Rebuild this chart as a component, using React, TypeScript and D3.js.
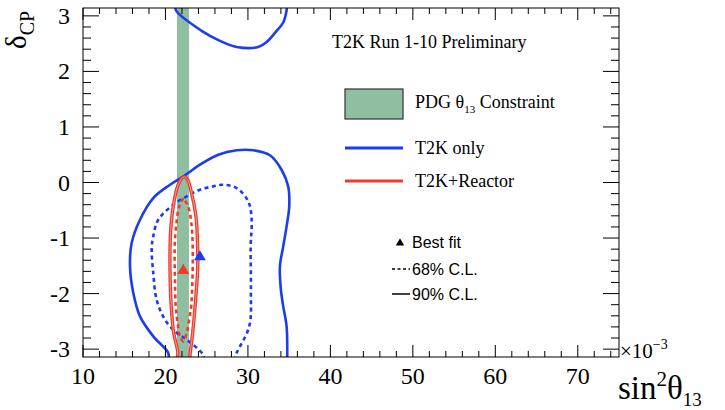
import React from "react";
import * as d3 from "d3";

// sin^2(theta13) in units of 1e-3, deltaCP in radians
const pdgBand = [21.4, 22.85];

const t2kOnly90Main: [number, number][] = [
  [20.34, -3.2], [20.34, -3.07], [18.52, -2.77], [16.91, -2.41], [16.1, -1.99],
  [15.7, -1.51], [15.9, -1.09], [16.91, -0.67], [18.52, -0.28], [20.55, -0.04],
  [22.36, 0.13], [24.18, 0.32], [26.4, 0.5], [28.63, 0.58], [30.64, 0.58],
  [32.67, 0.49], [34.08, 0.23], [34.88, -0.07], [35.01, -0.43], [34.69, -0.79],
  [34.28, -1.15], [33.88, -1.51], [33.98, -1.9], [34.28, -2.23], [34.69, -2.59],
  [34.76, -3.2],
];

const t2kOnly90Top: [number, number][] = [
  [21.27, 3.2], [21.27, 3.1], [24.39, 2.73], [26.61, 2.55], [28.63, 2.44],
  [31.25, 2.44], [32.27, 2.53], [33.48, 2.73], [34.28, 2.88], [34.69, 3.1],
  [34.73, 3.2],
];

const t2kOnly68: [number, number][] = [
  [24.7, -3.2], [24.58, -3.1], [22.57, -2.83], [21.15, -2.68], [19.94, -2.47],
  [18.93, -2.11], [18.52, -1.63], [18.33, -1.18], [18.52, -0.97], [19.13, -0.67],
  [20.95, -0.4], [22.57, -0.25], [24.18, -0.13], [25.79, -0.07], [27.01, -0.04],
  [28.63, -0.1], [30.04, -0.34], [30.45, -0.67], [30.33, -1.15], [30.36, -1.93],
  [30.16, -2.59], [28.63, -3.07], [28.35, -3.2],
];

const reactor90: [number, number][] = [
  [21.35, -3.2], [21.5, -3.07], [21.0, -2.71], [20.7, -2.23], [20.55, -1.57],
  [20.58, -1.03], [20.7, -0.73], [21.08, -0.31], [21.6, -0.02], [22.2, 0.1],
  [22.65, 0.06], [23.1, -0.15], [23.7, -0.61], [23.9, -1.15], [23.9, -1.57],
  [23.75, -1.93], [23.3, -2.71], [23.0, -3.07], [22.92, -3.2],
];

const reactor68: [number, number][] = [
  [22.16, -0.28], [21.67, -0.43], [21.33, -0.73], [21.12, -1.15], [21.15, -1.7],
  [21.25, -2.23], [21.5, -2.56], [21.76, -2.77], [22.16, -2.86], [22.57, -2.71],
  [22.97, -2.38], [23.12, -2.23], [23.3, -1.57], [23.3, -1.15], [23.18, -0.79],
  [22.76, -0.43], [22.16, -0.28],
];

const bestFitT2K: [number, number] = [24.18, -1.34];
const bestFitReactor: [number, number] = [22.16, -1.585];

const xMajor = [10, 20, 30, 40, 50, 60, 70];
const yMajor = [-3, -2, -1, 0, 1, 2, 3];

const BLUE = "#1c3cf0";
const RED = "#ee3a2c";
const GREEN = "#8fbfa0";

export default function App() {
  const width = 725;
  const height = 410;
  const left = 83, right = 619, top = 8, bottom = 357;

  const x = d3.scaleLinear().domain([10, 75]).range([left, right]);
  const y = d3.scaleLinear().domain([-Math.PI, Math.PI]).range([bottom, top]);

  const line = d3.line<[number, number]>()
    .x(d => x(d[0]))
    .y(d => y(d[1]))
    .curve(d3.curveCatmullRom.alpha(0.5));

  const xMinor = d3.range(10, 75, 2);
  const yMinor = d3.range(-3, 3.01, 0.2);

  const tri = d3.symbol().type(d3.symbolTriangle).size(60)();

  const serif = "'Liberation Serif', 'Times New Roman', serif";
  const sans = "'Liberation Sans', Arial, sans-serif";

  return (
    <svg width={width} height={height} style={{ position: "absolute", left: 0, top: 0, background: "#fff" }}>
      <defs>
        <clipPath id="plot">
          <rect x={left} y={top} width={right - left} height={bottom - top} />
        </clipPath>
      </defs>

      <g clipPath="url(#plot)">
        <rect x={x(pdgBand[0])} y={top} width={x(pdgBand[1]) - x(pdgBand[0])} height={bottom - top} fill={GREEN} />
        <path d={line(t2kOnly90Main) || ""} fill="none" stroke={BLUE} strokeWidth={2.6} />
        <path d={line(t2kOnly90Top) || ""} fill="none" stroke={BLUE} strokeWidth={2.6} />
        <path d={line(t2kOnly68) || ""} fill="none" stroke={BLUE} strokeWidth={2.6} strokeDasharray="4 3.5" />
        <path d={line(reactor90) || ""} fill="none" stroke={RED} strokeWidth={3.4} />
        <path d={line(reactor90) || ""} fill="none" stroke="#f6b0a8" strokeWidth={0.8} />
        <path d={line(reactor68) || ""} fill="none" stroke={RED} strokeWidth={2.6} strokeDasharray="4 3.5" />
        <path d={tri || ""} transform={`translate(${x(bestFitT2K[0])},${y(bestFitT2K[1])})`} fill={BLUE} />
        <path d={tri || ""} transform={`translate(${x(bestFitReactor[0])},${y(bestFitReactor[1])})`} fill={RED} />
      </g>

      {/* frame and ticks */}
      <rect x={left} y={top} width={right - left} height={bottom - top} fill="none" stroke="#000" strokeWidth={1} />
      <g stroke="#000" strokeWidth={1}>
        {xMinor.map(v => {
          const len = v % 10 === 0 ? 12 : 6;
          return (
            <g key={"x" + v}>
              <line x1={x(v)} x2={x(v)} y1={bottom} y2={bottom - len} />
              <line x1={x(v)} x2={x(v)} y1={top} y2={top + len} />
            </g>
          );
        })}
        {yMinor.map(v => {
          const major = Math.abs(v - Math.round(v)) < 1e-6;
          const len = major ? 16 : 8;
          return (
            <g key={"y" + v.toFixed(1)}>
              <line x1={left} x2={left + len} y1={y(v)} y2={y(v)} />
              <line x1={right} x2={right - len} y1={y(v)} y2={y(v)} />
            </g>
          );
        })}
      </g>

      <g fontFamily={serif} fontSize={24} fill="#000">
        {xMajor.map(v => (
          <text key={"xl" + v} x={x(v)} y={384} textAnchor="middle">{v}</text>
        ))}
        {yMajor.map(v => (
          <text key={"yl" + v} x={70} y={y(v) + 8} textAnchor="end">{v}</text>
        ))}
      </g>

      {/* x10^-3 */}
      <text x={620} y={358} fontFamily={serif} fontSize={21}>
        ×10<tspan dy={-9} fontSize={14}>−3</tspan>
      </text>

      {/* axis titles */}
      <text x={618} y={399} fontFamily={serif} fontSize={33}>
        sin<tspan dy={-13} fontSize={21}>2</tspan><tspan dy={13}>θ</tspan><tspan dy={7} fontSize={19}>13</tspan>
      </text>
      <text transform="translate(26,49) rotate(-90)" fontFamily={serif} fontSize={29}>
        δ<tspan dy={8} fontSize={20}>CP</tspan>
      </text>

      {/* title */}
      <text x={332} y={48} fontFamily={serif} fontSize={18}>T2K Run 1-10 Preliminary</text>

      {/* main legend */}
      <rect x={345} y={89} width={58} height={30} fill={GREEN} stroke="#333" strokeWidth={1.2} />
      <text x={415} y={108} fontFamily={serif} fontSize={18}>
        PDG θ<tspan dy={5} fontSize={11}>13</tspan><tspan dy={-5}> Constraint</tspan>
      </text>
      <line x1={345} x2={403} y1={148} y2={148} stroke={BLUE} strokeWidth={3} />
      <text x={415} y={154} fontFamily={serif} fontSize={18}>T2K only</text>
      <line x1={345} x2={403} y1={181} y2={181} stroke={RED} strokeWidth={3} />
      <text x={415} y={187} fontFamily={serif} fontSize={18}>T2K+Reactor</text>

      {/* style legend */}
      <path d={d3.symbol().type(d3.symbolTriangle).size(30)() || ""} transform="translate(400,243)" fill="#000" />
      <text x={412} y={248} fontFamily={sans} fontSize={16}>Best fit</text>
      <line x1={392} x2={410} y1={269} y2={269} stroke="#000" strokeWidth={1.5} strokeDasharray="3 2.5" />
      <text x={412} y={275} fontFamily={sans} fontSize={16}>68% C.L.</text>
      <line x1={392} x2={410} y1={294} y2={294} stroke="#000" strokeWidth={1.5} />
      <text x={412} y={300} fontFamily={sans} fontSize={16}>90% C.L.</text>
    </svg>
  );
}
